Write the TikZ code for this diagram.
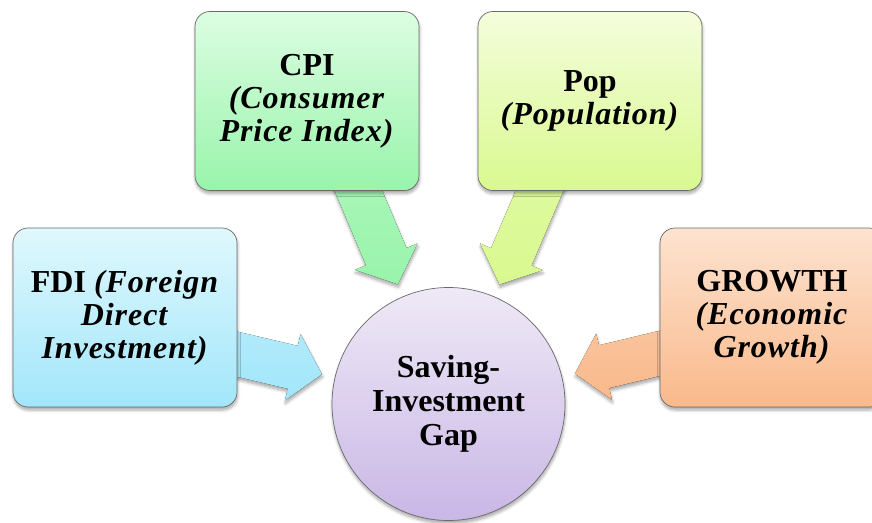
\documentclass[tikz,border=0pt]{standalone}
\usepackage{fontspec}
\setmainfont{Liberation Serif}[BoldItalicFeatures={LetterSpace=3}]
\usetikzlibrary{calc,backgrounds,shadows.blur}

\definecolor{fdibot}{HTML}{A2E6FB}
\definecolor{fditop}{HTML}{E0F8FD}
\definecolor{cpibot}{HTML}{99F4AB}
\definecolor{cpitop}{HTML}{DCFDE2}
\definecolor{popbot}{HTML}{D9F98F}
\definecolor{poptop}{HTML}{F4FDDC}
\definecolor{grobot}{HTML}{F9B98B}
\definecolor{grotop}{HTML}{FDE3D0}
\definecolor{gapbot}{HTML}{C9B7E6}
\definecolor{gaptop}{HTML}{EFE9F6}
\definecolor{edge}{HTML}{6A6A6A}

% block arrow from a coordinate towards the centre of the gap circle
\newcommand\gaparrow[2]{%
  \pgfpointdiff{\pgfpointanchor{#1}{center}}{\pgfpointanchor{gap}{center}}%
  \pgfgetlastxy\dx\dy
  \pgfmathsetmacro\arrang{atan2(\dy,\dx)}%
  \pgfmathsetmacro\arrlen{veclen(\dx,\dy)-130}%
  \begin{scope}[shift={(#1)}, rotate=\arrang]
    \fill[#2, soft] (0,-22) -- (\arrlen-30,-22) -- (\arrlen-30,-34) -- (\arrlen,0)
      -- (\arrlen-30,34) -- (\arrlen-30,22) -- (0,22) -- cycle;
  \end{scope}}

\begin{document}
\begin{tikzpicture}[x=1pt, y=-1pt,
    soft/.style={blur shadow={shadow blur steps=6, shadow xshift=.5pt,
      shadow yshift=-3pt, shadow opacity=35, shadow blur radius=3pt}},
    box/.style={draw=edge, line width=.7pt, rounded corners=15pt, soft,
      minimum width=224pt, minimum height=179pt, align=center, inner sep=2pt,
      font=\fontsize{32}{33}\selectfont\bfseries},
    gapnode/.style={circle, draw=edge, line width=.7pt, soft, minimum size=233pt,
      inner sep=0pt, align=center, font=\fontsize{32}{34}\selectfont\bfseries}]
  \useasboundingbox (0,0) rectangle (872,522);

  \node[box, top color=fditop, bottom color=fdibot] (fdi) at (125,317.5)
    {FDI \textit{(Foreign}\\ \textit{Direct}\\ \textit{Investment)}};
  \node[box, top color=cpitop, bottom color=cpibot] (cpi) at (307,101)
    {CPI\\ \textit{(Consumer}\\ \textit{Price Index)}};
  \node[box, top color=poptop, bottom color=popbot] (pop) at (590,101)
    {Pop\\ \textit{(Population)}};
  \node[box, top color=grotop, bottom color=grobot] (growth) at (772,317.5)
    {GROWTH\\ \textit{(Economic}\\ \textit{Growth)}};
  \node[gapnode, top color=gaptop, bottom color=gapbot] (gap) at (448.5,404)
    {Saving-\\ Investment\\ Gap};

  \coordinate (fdiout) at ($(fdi.east)+(-20,32)$);
  \coordinate (cpiout) at ($(cpi.south)+(43,-20)$);
  \coordinate (popout) at ($(pop.south)+(-42,-20)$);
  \coordinate (growthout) at ($(growth.west)+(20,31)$);

  \begin{pgfonlayer}{background}
    \gaparrow{fdiout}{top color=fditop!25!fdibot, bottom color=fdibot}
    \gaparrow{cpiout}{top color=cpitop!25!cpibot, bottom color=cpibot}
    \gaparrow{popout}{top color=poptop!25!popbot, bottom color=popbot}
    \gaparrow{growthout}{top color=grotop!25!grobot, bottom color=grobot}
  \end{pgfonlayer}
\end{tikzpicture}
\end{document}
